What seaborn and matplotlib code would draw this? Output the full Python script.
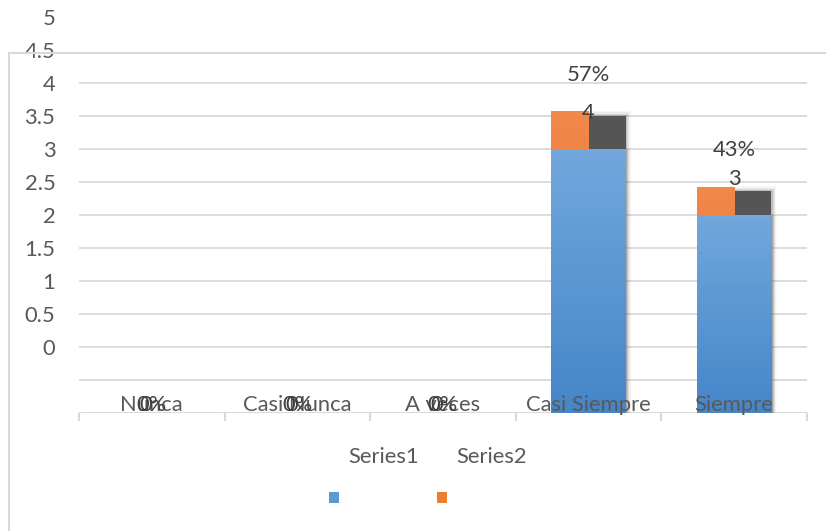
import numpy as np
import pandas as pd
import matplotlib
matplotlib.use("Agg")
import matplotlib.pyplot as plt
import seaborn as sns
from matplotlib.colors import LinearSegmentedColormap
from matplotlib.patches import Rectangle
from matplotlib.lines import Line2D

# ---- data -------------------------------------------------------------
categories = ["Nunca", "Casi Nunca", "A veces", "Casi Siempre", "Siempre"]
series1 = [0, 0, 0, 4, 3]
series2 = [0.0, 0.0, 0.0, 0.57, 0.43]
series1_labels = ["0", "0", "0", "4", "3"]
series2_labels = ["0%", "0%", "0%", "57%", "43%"]
ytick_labels = ["0", "0.5", "1", "1.5", "2", "2.5", "3", "3.5", "4", "4.5", "5"]
series_names = ["Series1", "Series2"]

# ---- style ------------------------------------------------------------
sns.set_style("white")
plt.rcParams["font.family"] = ["Lato", "DejaVu Sans"]
TXT = "#595959"
GRID = "#d9d9d9"
BLUE = "#5b9bd5"
ORANGE = "#ed7d31"
FS = 15.8

W, H = 826, 531
fig = plt.figure(figsize=(W / 100, H / 100), dpi=100)
fig.patch.set_facecolor("white")

PX = 66.0  # pixels per data unit on the value axis
ax = fig.add_axes([79 / W, (H - 413) / H, (807 - 79) / W, 6.2 * PX / H])
ax.set_xlim(-0.5, 4.5)
ax.set_ylim(0, 6.2)
for s in ax.spines.values():
    s.set_visible(False)

df = pd.DataFrame({"cat": categories, "s1": series1, "s2": series2})
df["total"] = df["s1"] + df["s2"]
df["shadow"] = (df["total"] - 0.07).clip(lower=0)

# gridlines and category axis
ax.hlines(np.arange(0.5, 5.01, 0.5), -0.5, 4.5, color=GRID, lw=1.3, zorder=0)
ax.axhline(0, color=GRID, lw=1.5, zorder=0.5)
ax.vlines(np.arange(-0.5, 4.6, 1.0), -8 / PX, 0, color=GRID, lw=1.5,
          clip_on=False, zorder=0.5)

BW = 0.51
HALF = BW / 2


def grad_fill(patches, top, bottom, z):
    cmap = LinearSegmentedColormap.from_list("g", [bottom, top])
    for p in patches:
        h = p.get_height()
        if h <= 0:
            continue
        x0, y0, w = p.get_x(), p.get_y(), p.get_width()
        im = ax.imshow(np.linspace(0, 1, 64).reshape(-1, 1), cmap=cmap,
                       origin="lower", aspect="auto",
                       extent=[x0, x0 + w, y0, y0 + h], zorder=z)
        im.set_clip_path(p)


# dark shadow behind the stacked segment (right half)
n0 = len(ax.patches)
sns.barplot(data=df, x="cat", y="shadow", color="#555555", width=HALF,
            saturation=1, ax=ax, zorder=1)
shadow_patches = ax.patches[n0:]
for p in shadow_patches:
    p.set_x(p.get_x() + HALF / 2)
    p.set_edgecolor("none")
    if p.get_height() > 0:
        for k, a in zip(range(1, 5), [0.18, 0.12, 0.08, 0.05]):
            d = k * 1.2 / 145.6
            ax.add_patch(Rectangle((p.get_x() - d, p.get_y()),
                                   p.get_width() + 2 * d,
                                   p.get_height() + k * 1.2 / PX,
                                   color="#555555", alpha=a, lw=0, zorder=0.9))

# stacked Series2 segment (left half, drawn to the total height)
n0 = len(ax.patches)
sns.barplot(data=df, x="cat", y="total", color=ORANGE, width=HALF,
            saturation=1, ax=ax, zorder=2)
orange_patches = ax.patches[n0:]
for p in orange_patches:
    p.set_x(p.get_x() - HALF / 2)
    p.set_edgecolor("none")
grad_fill(orange_patches, "#f1884a", "#e4661a", 2.1)

# soft shadow on the right of the Series1 bars
for i, v in enumerate(series1):
    if v > 0:
        for k, a in zip(range(1, 5), [0.16, 0.10, 0.06, 0.03]):
            ax.add_patch(Rectangle((i + HALF, 0), k * 1.3 / 145.6, v,
                                   color="#777777", alpha=a, lw=0, zorder=2.5))

# Series1 bars
n0 = len(ax.patches)
sns.barplot(data=df, x="cat", y="s1", color=BLUE, width=BW,
            saturation=1, ax=ax, zorder=3)
blue_patches = ax.patches[n0:]
for p in blue_patches:
    p.set_edgecolor("none")
grad_fill(blue_patches, "#71a7dc", "#4586c9", 3.1)

# value axis labels (drawn one step above their gridline)
ax.set_yticks(np.arange(1, 6.01, 0.5))
ax.set_yticklabels(ytick_labels)
ax.tick_params(axis="y", length=0, pad=17, labelsize=FS, labelcolor=TXT)
ax.set_xticks([])
ax.set_xlabel("")
ax.set_ylabel("")

# category names
for i, c in enumerate(categories):
    ax.text(i, 0.12, c, ha="center", va="center", fontsize=FS, color=TXT,
            zorder=6)

# data labels
for i, (v1, v2) in enumerate(zip(series1, series2)):
    y1 = v1 + 0.55 if v1 > 0 else 0.12
    ax.text(i - (0.04 if v1 == 0 else 0), y1, series1_labels[i],
            ha="center", va="center", fontsize=FS, color="#404040", zorder=7)
    y2 = v1 + v2 + 0.55 if v1 + v2 > 0 else 0.12
    ax.text(i, y2, series2_labels[i], ha="center", va="center",
            fontsize=FS, color="#404040", zorder=7)

# legend
fig.text(384 / W, 1 - 457 / H, series_names[0], ha="center", va="center",
         fontsize=FS, color=TXT)
fig.text(492 / W, 1 - 457 / H, series_names[1], ha="center", va="center",
         fontsize=FS, color=TXT)
for cx, col in [(333.5, BLUE), (441.5, ORANGE)]:
    fig.add_artist(Rectangle(((cx - 5) / W, 1 - (497 + 5.5) / H), 10 / W, 11 / H,
                             transform=fig.transFigure, color=col, lw=0))

# chart area border
fig.add_artist(Line2D([8.5 / W, 8.5 / W], [0, 1 - 52.5 / H],
                      transform=fig.transFigure, color=GRID, lw=1.5))
fig.add_artist(Line2D([8.5 / W, 1], [1 - 52.5 / H, 1 - 52.5 / H],
                      transform=fig.transFigure, color=GRID, lw=1.5))

fig.savefig("out.png", dpi=100, facecolor="white")
